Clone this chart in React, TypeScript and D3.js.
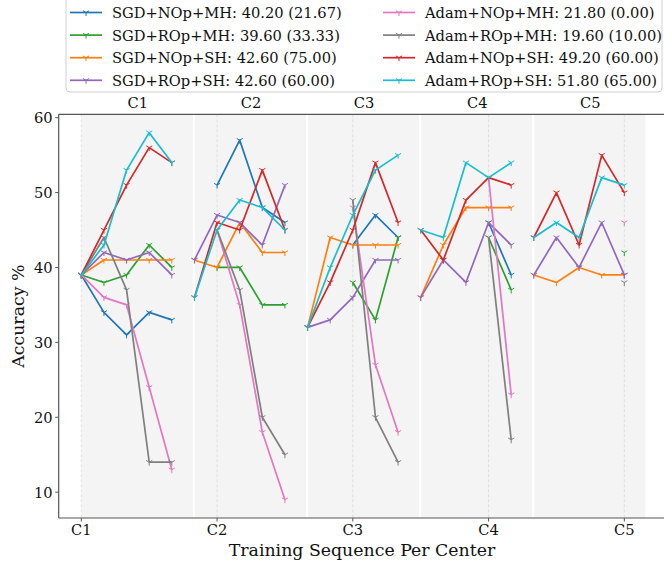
import React from "react";
import * as d3 from "d3";

// centers and training steps
const centers = ["C1", "C2", "C3", "C4", "C5"];
const stepsPerCenter = 5;
const yTicks = [10, 20, 30, 40, 50, 60];

// accuracy per step (null = not evaluated yet)
const sgdNopMh = [39, 34, 31, 34, 33, null, 51, 57, 48, 46, null, null, 43, 47, 44, null, null, null, 46, 39, null, null, null, null, 39];
const sgdRopMh = [39, 38, 39, 43, 40, null, 40, 40, 35, 35, null, null, 38, 33, 44, null, null, null, 44, 37, null, null, null, null, 42];
const sgdNopSh = [39, 41, 41, 41, 41, 41, 40, 46, 42, 42, 32, 44, 43, 43, 43, 36, 43, 48, 48, 48, 39, 38, 40, 39, 39];
const sgdRopSh = [39, 42, 41, 42, 39, 41, 47, 46, 43, 51, 32, 33, 36, 41, 41, 36, 41, 38, 46, 43, 39, 44, 40, 46, 39];
const adamNopMh = [39, 36, 35, 24, 13, null, 45, 35, 18, 9, null, null, 48, 27, 18, null, null, null, 52, 23, null, null, null, null, 46];
const adamRopMh = [39, 44, 37, 14, 14, null, 45, 37, 20, 15, null, null, 49, 20, 14, null, null, null, 44, 17, null, null, null, null, 38];
const adamNopSh = [39, 45, 51, 56, 54, 36, 46, 45, 53, 45, 32, 38, 45, 54, 46, 45, 41, 49, 52, 51, 44, 50, 43, 55, 50];
const adamRopSh = [39, 43, 53, 58, 54, 36, 45, 49, 48, 45, 32, 40, 47, 53, 55, 45, 44, 54, 52, 54, 44, 46, 44, 52, 51];

const seriesNames = [
  "SGD+NOp+MH: 40.20 (21.67)",
  "SGD+ROp+MH: 39.60 (33.33)",
  "SGD+NOp+SH: 42.60 (75.00)",
  "SGD+ROp+SH: 42.60 (60.00)",
  "Adam+NOp+MH: 21.80 (0.00)",
  "Adam+ROp+MH: 19.60 (10.00)",
  "Adam+NOp+SH: 49.20 (60.00)",
  "Adam+ROp+SH: 51.80 (65.00)",
];
const seriesValues = [sgdNopMh, sgdRopMh, sgdNopSh, sgdRopSh, adamNopMh, adamRopMh, adamNopSh, adamRopSh];
const colors = ["#1f77b4", "#2ca02c", "#ff7f0e", "#9467bd", "#e377c2", "#7f7f7f", "#d62728", "#17becf"];

const W = 664;
const H = 564;
const left = 58.7;
const top = 114.3;
const bottom = 518;
const font = "DejaVu Serif";
const fs = 14.67;

const Tri = ({ x, y, color, s = 3.5 }: { x: number; y: number; color: string; s?: number }) => (
  <path
    d={`M${x},${y}L${x},${y + s}M${x},${y}L${x - s * 0.87},${y - s * 0.5}M${x},${y}L${x + s * 0.87},${y - s * 0.5}`}
    stroke={color}
    strokeWidth={1}
    fill="none"
  />
);

export default function App() {
  const x = d3.scaleLinear().domain([-1, 26]).range([left, left + 27 * 22.625]);
  const y = d3.scaleLinear().domain([6.55, 60.45]).range([bottom, top]);
  const gen = d3
    .line<[number, number | null]>()
    .defined((d) => d[1] !== null)
    .x((d) => x(d[0]))
    .y((d) => y(d[1] as number));

  const tickIdx = centers.map((_, k) => k * stepsPerCenter + k);
  const right = W + 4;

  return (
    <svg width={W} height={H} style={{ position: "absolute", left: 0, top: 0, background: "#fff" }} fontFamily={font}>
      {/* center bands */}
      {centers.map((c, k) => (
        <rect
          key={"b" + c}
          x={x(k * stepsPerCenter + 0.02)}
          y={top}
          width={x(k * stepsPerCenter + 4.93) - x(k * stepsPerCenter + 0.02)}
          height={bottom - top}
          fill="#f4f4f4"
        />
      ))}
      {/* vertical dashed grid */}
      {tickIdx.map((t) => (
        <line key={"g" + t} x1={x(t)} x2={x(t)} y1={top} y2={bottom} stroke="#d8d8d8" strokeWidth={0.8} strokeDasharray="3,2" />
      ))}
      {/* series, one polyline per center */}
      {seriesValues.map((vals, s) => (
        <g key={"s" + s}>
          {centers.map((c, k) => {
            const pts = d3
              .range(k * stepsPerCenter, (k + 1) * stepsPerCenter)
              .map((i) => [i, vals[i]] as [number, number | null]);
            return (
              <g key={c}>
                <path d={gen(pts) || ""} fill="none" stroke={colors[s]} strokeWidth={1.7} strokeLinejoin="round" />
                {pts
                  .filter((d) => d[1] !== null)
                  .map((d) => (
                    <Tri key={d[0]} x={x(d[0])} y={y(d[1] as number)} color={colors[s]} />
                  ))}
              </g>
            );
          })}
        </g>
      ))}
      {/* spines */}
      <line x1={left} x2={left} y1={top} y2={bottom} stroke="#555" strokeWidth={1.2} />
      <line x1={left} x2={right} y1={bottom} y2={bottom} stroke="#555" strokeWidth={1.2} />
      <line x1={left} x2={right} y1={top} y2={top} stroke="#555" strokeWidth={1.2} />
      {/* y axis */}
      {yTicks.map((t) => (
        <g key={"y" + t}>
          <line x1={left - 3.5} x2={left} y1={y(t)} y2={y(t)} stroke="#555" strokeWidth={1} />
          <text x={left - 6} y={y(t)} textAnchor="end" dominantBaseline="central" fontSize={fs} fill="#111">
            {t}
          </text>
        </g>
      ))}
      {/* x axis */}
      {tickIdx.map((t, k) => (
        <g key={"x" + t}>
          <line x1={x(t)} x2={x(t)} y1={bottom} y2={bottom + 3.5} stroke="#555" strokeWidth={1} />
          <text x={x(t)} y={bottom + 17} textAnchor="middle" fontSize={fs} fill="#111">
            {centers[k]}
          </text>
        </g>
      ))}
      {/* center titles */}
      {centers.map((c, k) => (
        <text key={"t" + c} x={x(k * stepsPerCenter + 2.5)} y={top - 6} textAnchor="middle" fontSize={fs} fill="#111">
          {c}
        </text>
      ))}
      <text x={362} y={556} textAnchor="middle" fontSize={17.33} fill="#111">
        Training Sequence Per Center
      </text>
      <text transform={`translate(24,${(top + bottom) / 2}) rotate(-90)`} textAnchor="middle" fontSize={17.33} fill="#111">
        Accuracy %
      </text>
      {/* legend */}
      <rect x={66} y={-4} width={596} height={96} rx={4} fill="#fff" fillOpacity={0.85} stroke="#d0d0d0" strokeWidth={1} />
      {seriesNames.map((name, s) => {
        const col = Math.floor(s / 4);
        const row = s % 4;
        const lx = col === 0 ? 70 : 383;
        const ly = 12.5 + row * 22.6;
        return (
          <g key={"l" + s}>
            <line x1={lx} x2={lx + 32} y1={ly} y2={ly} stroke={colors[s]} strokeWidth={1.7} />
            <Tri x={lx + 16} y={ly} color={colors[s]} />
            <text x={lx + 42} y={ly} dominantBaseline="central" fontSize={fs} fill="#111">
              {name}
            </text>
          </g>
        );
      })}
    </svg>
  );
}
